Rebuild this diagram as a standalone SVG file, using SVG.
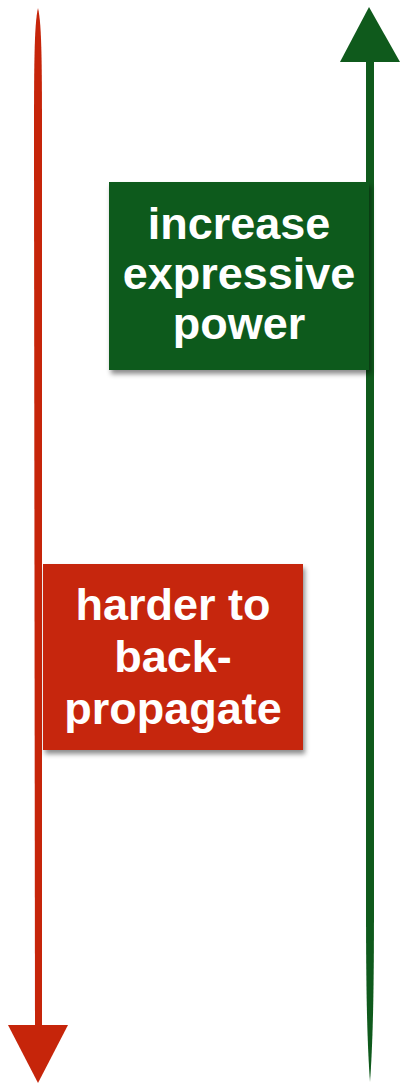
<svg xmlns="http://www.w3.org/2000/svg" width="402" height="1084" viewBox="0 0 402 1084">
<style>
.red{fill:#c6250a}
.green{fill:#0f5a1c}
.lbl{font-family:"Liberation Sans",Arial,sans-serif;font-weight:bold;font-size:45px;fill:#ffffff;text-anchor:middle}
</style>
<defs>
<filter id="sh" x="-10%" y="-10%" width="125%" height="130%">
<feDropShadow dx="2" dy="4" stdDeviation="2.5" flood-color="#000" flood-opacity="0.45"/>
</filter>
</defs>
<rect width="402" height="1084" fill="#ffffff"/>
<g id="connectors">
<path class="red" d="M38,8 C34,25 34,70 34,150 L35,1028 L42,1028 L42,150 C42,70 42,25 38,8 Z"/>
<polygon class="red" points="8,1025 68,1025 38,1083"/>
<path class="green" d="M366,60 L366,900 C366,990 367,1040 370,1082 C373,1040 374,990 374,900 L374,60 Z"/>
<polygon class="green" points="340,62 400,62 369,7"/>
</g>
<g id="node-expressive">
<rect class="green" x="109" y="182" width="260" height="188" filter="url(#sh)"/>
<text class="lbl" x="239" y="239">increase</text>
<text class="lbl" x="239" y="289">expressive</text>
<text class="lbl" x="239" y="339">power</text>
</g>
<g id="node-backprop">
<rect class="red" x="43" y="564" width="260" height="186" filter="url(#sh)"/>
<text class="lbl" x="173" y="620">harder to</text>
<text class="lbl" x="173" y="672">back-</text>
<text class="lbl" x="173" y="724">propagate</text>
</g>
</svg>
